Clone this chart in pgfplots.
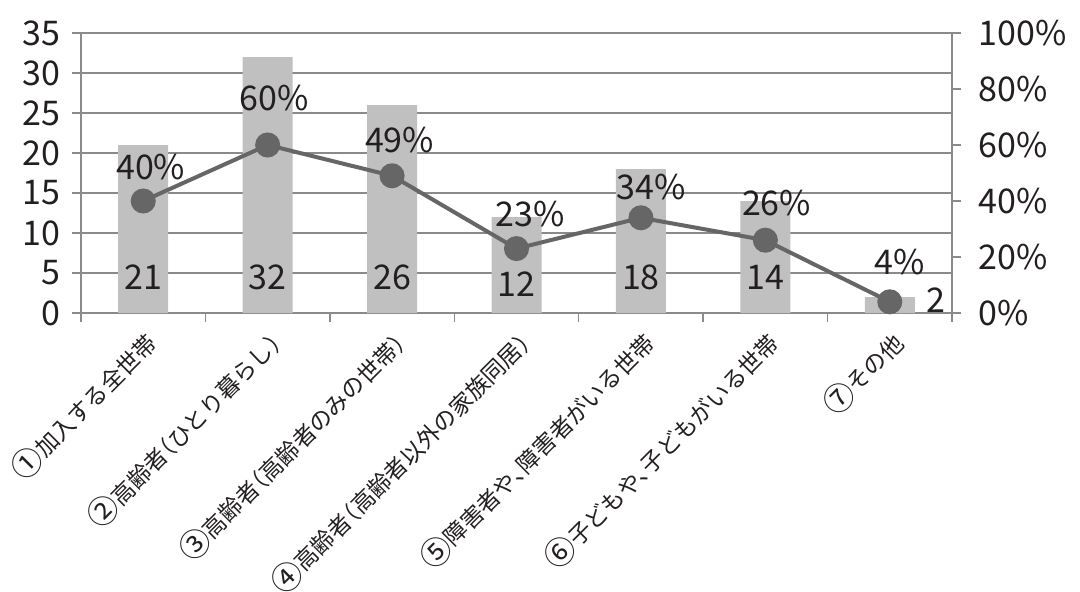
\documentclass[border=0pt]{standalone}
\usepackage{pgfplots}
\pgfplotsset{compat=1.18}
\usepackage{fontspec}
\setmainfont{Noto Sans CJK JP}
\newfontfamily\lblfam[RawFeature=+halt]{Noto Sans CJK JP}
\newfontfamily\cjk{Noto Sans CJK JP}
\definecolor{bargray}{HTML}{C0C0C0}
\definecolor{linegray}{HTML}{666666}
\definecolor{gridgray}{HTML}{8A8A8A}
\definecolor{txt}{HTML}{231F20}
\newcommand{\bigf}{\fontsize{34}{34}\selectfont}
\newcommand{\lblf}{\lblfam\fontsize{23}{23}\selectfont}
\newcommand{\cn}[1]{\raisebox{-2pt}{\cjk\fontsize{31}{31}\selectfont #1}}
\begin{document}
\begin{tikzpicture}
\begin{axis}[name=ax, scale only axis, width=871pt, height=280pt,
  xmin=-0.5, xmax=6.5, ymin=0, ymax=35,
  /pgf/number format/assume math mode=true,
  axis line style={gridgray, line width=2pt},
  ytick={0,5,...,35},
  xtick={0,...,6},
  xticklabels={\cn{①}加入する全世帯,\cn{②}高齢者（ひとり暮らし）,\cn{③}高齢者（高齢者のみの世帯）,\cn{④}高齢者（高齢者以外の家族同居）,\cn{⑤}障害者や、障害者がいる世帯,\cn{⑥}子どもや、子どもがいる世帯,\cn{⑦}その他},
  minor xtick={-0.5,0.5,...,6.5},
  major x tick style={draw=none},
  minor x tick style={gridgray, line width=1.5pt},
  major y tick style={gridgray, line width=2pt},
  tick align=outside,
  major tick length=9pt, minor tick length=9pt,
  tick pos=left,
  ymajorgrids, grid style={gridgray, line width=2pt},
  yticklabel style={font=\bigf, text=txt, anchor=east, xshift=-8pt},
  xticklabel style={font=\lblf, text=txt, rotate=45, anchor=north east, inner sep=0pt, yshift=-3pt, xshift=-5pt},
  clip=false,
]
\addplot[ybar, bar width=50pt, fill=bargray, draw=none] coordinates {(0,21) (1,32) (2,26) (3,12) (4,18) (5,14) (6,2)};
\addplot[draw=none, mark=none, nodes near coords, point meta=explicit symbolic,
  nodes near coords style={anchor=center, font=\bigf, text=txt, inner sep=0pt}]
  table[meta=label] {
x y label
0 4.5 21
1 4.5 32
2 4.5 26
3 3.6 12
4 4.5 18
5 4.5 14
6.37 1.6 2
};
\end{axis}
\begin{axis}[scale only axis, width=871pt, height=280pt,
  xmin=-0.5, xmax=6.5, ymin=0, ymax=100,
  /pgf/number format/assume math mode=true,
  axis x line=none, axis y line*=right,
  axis line style={gridgray, line width=2pt},
  ytick={0,20,...,100},
  yticklabel={\pgfmathprintnumber{\tick}\%},
  yticklabel style={font=\bigf, text=txt, anchor=west, xshift=14pt},
  tick align=outside, major tick length=9pt,
  major y tick style={gridgray, line width=2pt},
  clip=false,
]
\addplot[linegray, line width=4pt, mark=*, mark size=10.5pt, mark options={fill=linegray, draw=linegray}] coordinates {(0,40) (1,60) (2,49) (3,23) (4,34) (5,26) (6,4)};
\addplot[draw=none, mark=none, nodes near coords, point meta=explicit symbolic,
  nodes near coords style={anchor=center, font=\bigf, text=txt, inner sep=0pt}]
  table[meta=label] {
x y label
0.06 52.1 40\%
1.05 76.8 60\%
2.06 61.8 49\%
3.11 35.4 23\%
4.08 45 34\%
5.09 39.3 26\%
6.08 18.2 4\%
};
\end{axis}
\pgfresetboundingbox
\path[use as bounding box] ([xshift=-81pt,yshift=-278pt]ax.south west) rectangle ([xshift=128pt,yshift=33pt]ax.north east);
\end{tikzpicture}
\end{document}
